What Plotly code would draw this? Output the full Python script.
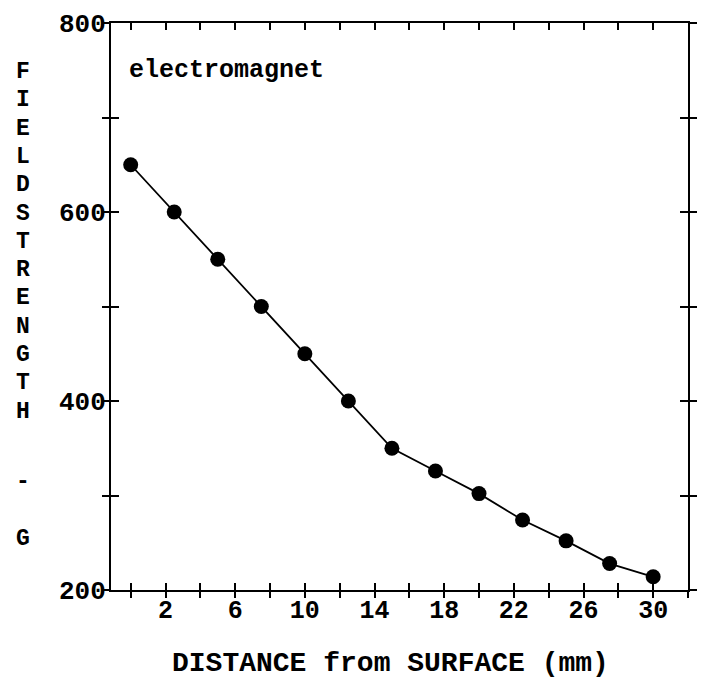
import plotly.graph_objects as go

# ---- data ----
distance_mm = [0, 2.5, 5, 7.5, 10, 12.5, 15, 17.5, 20, 22.5, 25, 27.5, 30]
field_G = [650, 600, 550, 500, 450, 400, 350, 326, 302, 274, 252, 228, 214]

x_tickvals = [0, 2, 4, 6, 8, 10, 12, 14, 16, 18, 20, 22, 24, 26, 28, 30, 32]
x_ticktext = ["", "2", "", "6", "", "10", "", "14", "", "18", "", "22", "", "26", "", "30", ""]
y_tickvals = [200, 300, 400, 500, 600, 700, 800]
y_ticktext = ["200", "", "400", "", "600", "", "800"]

y_title_letters = ["F", "I", "E", "L", "D", "S", "T", "R", "E", "N", "G", "T", "H", "-", "G"]
y_title_rows = [0, 1, 2, 3, 4, 5, 6, 7, 8, 9, 10, 11, 12, 14.5, 16.5]

FONT = "Liberation Mono"
X_RANGE = [-1.13, 32]
Y_RANGE = [200, 800]

fig = go.Figure()
fig.add_trace(go.Scatter(
    x=distance_mm, y=field_G, mode="lines+markers",
    line=dict(color="black", width=1.8),
    marker=dict(color="black", size=15),
    showlegend=False, hoverinfo="skip",
))

axis_common = dict(showgrid=False, zeroline=False, showline=True, linecolor="black",
                   linewidth=2, tickcolor="black", tickwidth=1.8)

fig.update_layout(
    width=704, height=678,
    margin=dict(l=111, r=7, t=23, b=88),
    paper_bgcolor="white", plot_bgcolor="white",
    font=dict(family=FONT, color="black", size=22, weight=700),
    xaxis=dict(range=X_RANGE, tickmode="array", tickvals=x_tickvals, ticktext=x_ticktext,
               ticks="inside", ticklen=7, mirror="ticks", ticklabelstandoff=-4,
               tickfont=dict(family=FONT, size=25, weight=700), **axis_common),
    xaxis2=dict(range=X_RANGE, overlaying="x", side="bottom", anchor="y",
                tickmode="array", tickvals=x_tickvals, ticks="outside", ticklen=6,
                showticklabels=False, **axis_common),
    yaxis=dict(range=Y_RANGE, tickmode="array", tickvals=y_tickvals, ticktext=y_ticktext,
               ticks="inside", ticklen=8, mirror="ticks", ticklabelstandoff=-2,
               tickfont=dict(family=FONT, size=26, weight=700), **axis_common),
    yaxis2=dict(range=Y_RANGE, overlaying="y", side="left", anchor="x",
                tickmode="array", tickvals=y_tickvals, ticks="outside", ticklen=7,
                mirror="ticks", showticklabels=False, **axis_common),
)

# invisible trace to activate the overlay axes
fig.add_trace(go.Scatter(x=[distance_mm[0]], y=[field_G[0]], xaxis="x2", yaxis="y2",
                         mode="markers", marker=dict(opacity=0), showlegend=False,
                         hoverinfo="skip"))

plot_w = 704 - 111 - 7
plot_h = 678 - 23 - 88

def px_to_paper(xpx, ypx):
    return (xpx - 111) / plot_w, 1 - (ypx - 23) / plot_h

# in-plot label
lx, ly = px_to_paper(127, 70)
fig.add_annotation(text="electromagnet", xref="paper", yref="paper", x=lx, y=ly,
                   xanchor="left", yanchor="middle", showarrow=False,
                   font=dict(family=FONT, size=25, weight=700))

# x axis title
tx, ty = px_to_paper(395, 663)
fig.add_annotation(text="DISTANCE from SURFACE (mm)", xref="paper", yref="paper",
                   x=tx, y=ty, xanchor="center", yanchor="middle", showarrow=False,
                   font=dict(family=FONT, size=28, weight=700))

# vertical stacked y title
first_px, pitch_px = 72, 28.3
for letter, row in zip(y_title_letters, y_title_rows):
    ax, ay = px_to_paper(22, first_px + row * pitch_px)
    fig.add_annotation(text=letter, xref="paper", yref="paper", x=ax, y=ay,
                       xanchor="center", yanchor="middle", showarrow=False,
                       font=dict(family=FONT, size=23, weight=700))

fig.write_html("out.html")
